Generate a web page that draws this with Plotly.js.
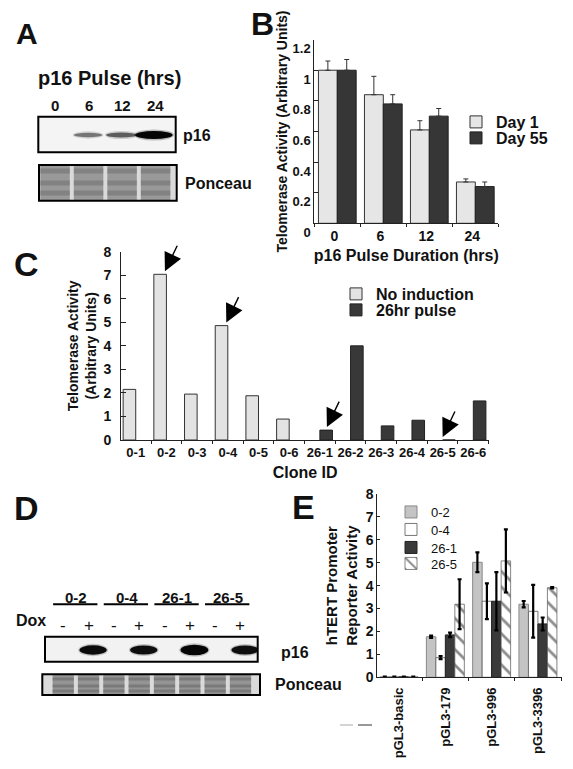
<!DOCTYPE html>
<html><head><meta charset="utf-8">
<script src="https://cdn.plot.ly/plotly-3.0.1.min.js"></script>
<style>html,body{margin:0;padding:0;background:#fff}#chart{width:573px;height:769px}</style>
</head><body><div id="chart"></div>
<script>
// ---------------- data ----------------
// Panel B
const pulseDurations = ['0', '6', '12', '24'];
const day1Activity = [1.00, 0.84, 0.61, 0.27];
const day1Error = [0.06, 0.12, 0.06, 0.02];
const day55Activity = [1.00, 0.78, 0.70, 0.24];
const day55Error = [0.07, 0.06, 0.05, 0.03];
const day1Significant = [false, false, true, true];
const day55Significant = [false, true, true, true];
// Panel C
const cloneIds = ['0-1','0-2','0-3','0-4','0-5','0-6','26-1','26-2','26-3','26-4','26-5','26-6'];
const noInductionActivity = [2.15, 7.04, 1.95, 4.86, 1.88, 0.89, null, null, null, null, null, null];
const pulse26Activity = [null, null, null, null, null, null, 0.42, 4.00, 0.60, 0.84, 0, 1.66];
const selectedClones = ['0-2', '0-4', '26-1', '26-5'];
// Panel E
const constructs = ['pGL3-basic', 'pGL3-179', 'pGL3-996', 'pGL3-3396'];
const reporter02 = [0.02, 1.77, 5.02, 3.19];
const reporter02Err = [0.01, 0.05, 0.43, 0.14];
const reporter04 = [0.02, 0.86, 3.32, 2.88];
const reporter04Err = [0.01, 0.07, 0.78, 1.15];
const reporter261 = [0.02, 1.85, 3.32, 2.33];
const reporter261Err = [0.01, 0.10, 1.27, 0.28];
const reporter265 = [0.02, 3.19, 5.08, 3.91];
const reporter265Err = [0.01, 1.09, 1.38, 0.03];
// Panels A and D (blots)
const pulseLanes = ['0', '6', '12', '24'];
const p16PulseBand = [0, 0.30, 0.45, 1.0];
const doxClones = ['0-2', '0-4', '26-1', '26-5'];
const doxStates = ['-', '+'];
const p16DoxBand = [0, 0.8, 0, 0.75, 0, 1.0, 0, 0.7];

// ---------------- helpers ----------------
const W = 573, H = 769;
const fx = x => x / W;
const fy = y => 1 - y / H;
const FONT = 'Liberation Sans, Arial, Helvetica, sans-serif';
const bold = (size) => ({family: FONT, size: size, color: '#111', weight: 'bold'});
const plain = (size) => ({family: FONT, size: size, color: '#111'});
const zeros = a => a.map(() => 0);

// ---------------- traces ----------------
const traces = [
  {type: 'bar', name: 'Day 1', x: pulseDurations, y: day1Activity, xaxis: 'x', yaxis: 'y', legend: 'legend',
   marker: {color: '#e6e6e6', line: {color: '#333', width: 1}},
   error_y: {type: 'data', array: day1Error, arrayminus: zeros(day1Error), symmetric: false, color: '#333', thickness: 1, width: 2.5}},
  {type: 'bar', name: 'Day 55', x: pulseDurations, y: day55Activity, xaxis: 'x', yaxis: 'y', legend: 'legend4',
   marker: {color: '#363636', line: {color: '#222', width: 1}},
   error_y: {type: 'data', array: day55Error, arrayminus: zeros(day55Error), symmetric: false, color: '#333', thickness: 1, width: 2.5}},
  {type: 'bar', name: 'No induction', x: cloneIds, y: noInductionActivity, xaxis: 'x2', yaxis: 'y2', legend: 'legend2',
   marker: {color: '#e3e3e3', line: {color: '#333', width: 1}}},
  {type: 'bar', name: '26hr pulse', x: cloneIds, y: pulse26Activity, xaxis: 'x2', yaxis: 'y2', legend: 'legend5',
   marker: {color: '#383838', line: {color: '#222', width: 1}}},
  {type: 'bar', name: '0-2', x: constructs, y: reporter02, xaxis: 'x3', yaxis: 'y3', legend: 'legend3',
   marker: {color: '#c4c4c4', line: {color: '#888', width: 1}},
   error_y: {type: 'data', array: reporter02Err, color: '#000', thickness: 2.2, width: 2}},
  {type: 'bar', name: '0-4', x: constructs, y: reporter04, xaxis: 'x3', yaxis: 'y3', legend: 'legend6',
   marker: {color: '#ffffff', line: {color: '#555', width: 0.8}},
   error_y: {type: 'data', array: reporter04Err, color: '#000', thickness: 2.2, width: 2}},
  {type: 'bar', name: '26-1', x: constructs, y: reporter261, xaxis: 'x3', yaxis: 'y3', legend: 'legend7',
   marker: {color: '#3a3a3a', line: {color: '#222', width: 1}},
   error_y: {type: 'data', array: reporter261Err, color: '#000', thickness: 2.2, width: 2}},
  {type: 'bar', name: '26-5', x: constructs, y: reporter265, xaxis: 'x3', yaxis: 'y3', legend: 'legend8',
   marker: {color: '#ffffff', line: {color: '#666', width: 0.8},
            pattern: {shape: '\\', fgcolor: '#8c8c8c', bgcolor: '#ffffff', size: 11, solidity: 0.25}},
   error_y: {type: 'data', array: reporter265Err, color: '#000', thickness: 2.2, width: 2}},
  // invisible anchors for the blot lane scales
  {type: 'scatter', x: [], y: [], xaxis: 'x4', yaxis: 'y4', showlegend: false, hoverinfo: 'skip'},
  {type: 'scatter', x: [], y: [], xaxis: 'x5', yaxis: 'y5', showlegend: false, hoverinfo: 'skip'}
];

// ---------------- annotations ----------------
const annotations = [];
const txt = (xref, x, y, text, font, xanchor) => ({xref: xref, yref: 'paper', x: x, y: fy(y), text: text, showarrow: false,
  font: font, xanchor: xanchor || 'center', yanchor: 'middle'});
// panel letters
[['A', 26.7, 33.5, 30], ['B', 262, 24, 32], ['C', 26.5, 264, 34], ['D', 26.5, 508, 34], ['E', 303.5, 507, 34]]
  .forEach(([t, x, y, s]) => annotations.push(txt('paper', fx(x), y, t, bold(s))));
// significance stars (B)
pulseDurations.forEach((d, i) => {
  if (day1Significant[i]) annotations.push({xref: 'x', yref: 'y', x: d, y: day1Activity[i] + day1Error[i], xshift: -9.3, yshift: -3,
    text: '*', showarrow: false, xanchor: 'center', yanchor: 'bottom', font: plain(13)});
  if (day55Significant[i]) annotations.push({xref: 'x', yref: 'y', x: d, y: day55Activity[i] + day55Error[i], xshift: 9.3, yshift: -3,
    text: '*', showarrow: false, xanchor: 'center', yanchor: 'bottom', font: plain(13)});
});
// arrows (C)
selectedClones.forEach(c => {
  const i = cloneIds.indexOf(c);
  const noInd = noInductionActivity[i] !== null;
  const v = noInd ? noInductionActivity[i] : (pulse26Activity[i] || 0);
  annotations.push({xref: 'x2', yref: 'y2', x: c, y: v, xshift: noInd ? -1.5 : (v > 0 ? 7 : 0), yshift: 3,
    text: '', showarrow: true, arrowhead: 2, arrowsize: 2.6, arrowwidth: 1.4, arrowcolor: '#000', ax: 13, ay: -27});
});
// panel A texts
annotations.push(txt('paper', fx(109), 78, 'p16 Pulse (hrs)', bold(20)));
pulseLanes.forEach((l, i) => annotations.push(txt('x4', i, 106, l, bold(15))));
annotations.push(txt('paper', fx(181.5), 135, 'p16', bold(16), 'left'));
annotations.push(txt('paper', fx(182.5), 183.3, 'Ponceau', bold(16), 'left'));
// panel D texts
doxClones.forEach((c, g) => annotations.push(txt('x5', 2 * g + 0.5, 597.5, c, bold(15))));
p16DoxBand.forEach((b, i) => annotations.push(txt('x5', i, 625, doxStates[i % 2], plain(17))));
annotations.push(txt('paper', fx(14), 620.5, 'Dox', bold(16), 'left'));
annotations.push(txt('paper', fx(279), 652, 'p16', bold(16), 'left'));
annotations.push(txt('paper', fx(273), 684, 'Ponceau', bold(16), 'left'));

// ---------------- shapes (blots) ----------------
const shapes = [];
const rectP = (x0, y0, x1, y1, fill, lw) => ({type: 'rect', xref: 'paper', yref: 'paper', x0: fx(x0), x1: fx(x1), y0: fy(y1), y1: fy(y0),
  fillcolor: fill || 'rgba(0,0,0,0)', line: {color: '#000', width: lw || 0}, layer: 'above'});
const grey = v => { const g = Math.max(0, Math.round(v)); return `rgb(${g},${g},${g})`; };
const band = (xref, c, hw, yc, hh, color, op) => ({type: 'circle', xref: xref, yref: 'paper', x0: c - hw, x1: c + hw,
  y0: fy(yc + hh), y1: fy(yc - hh), fillcolor: color, opacity: op, line: {width: 0}});

// A: p16 blot
shapes.push(rectP(38.3, 116.7, 175.7, 152.3, '#f4f4f4', 0));
p16PulseBand.forEach((v, i) => {
  if (v <= 0) return;
  const hw = 0.36 + 0.2 * v, hh = 1.4 + 2.6 * v, c = i - 0.05 * v;
  shapes.push(band('x4', c, hw + 0.04, 135, hh + 1.5, grey(150 - 130 * v), 0.25));
  shapes.push(band('x4', c, hw, 135, hh, grey(165 - 160 * v), 1));
});
shapes.push(rectP(38.3, 116.7, 175.7, 152.3, null, 2));
// A: Ponceau
shapes.push(rectP(39, 165, 176.7, 200.7, '#dadada', 0));
pulseLanes.forEach((l, i) => {
  shapes.push({type: 'rect', xref: 'x4', yref: 'paper', x0: i - 0.44, x1: i + 0.44, y0: fy(200.7), y1: fy(165), fillcolor: '#999', line: {width: 0}});
  [171, 183, 193].forEach(s => shapes.push({type: 'rect', xref: 'x4', yref: 'paper', x0: i - 0.44, x1: i + 0.44,
    y0: fy(s + 2.5), y1: fy(s - 2.5), fillcolor: '#666', opacity: 0.45, line: {width: 0}}));
});
shapes.push(rectP(39, 165, 176.7, 200.7, null, 2));

// D: underlines
doxClones.forEach((c, g) => shapes.push({type: 'line', xref: 'x5', yref: 'paper', x0: 2 * g - 0.4, x1: 2 * g + 1.35,
  y0: fy(604.3), y1: fy(604.3), line: {color: '#000', width: 2}}));
// D: p16 blot
shapes.push(rectP(45, 636.7, 257.7, 661.7, '#f2f2f2', 0));
p16DoxBand.forEach((v, i) => {
  if (v <= 0) return;
  const c = i + 0.18, hw = 0.5 + 0.05 * v, hh = 2.6 + 2.6 * v;
  shapes.push(band('x5', c, hw + 0.05, 650, hh + 1.5, '#555', 0.3));
  shapes.push(band('x5', c, hw, 650, hh, grey(35 - 30 * v), 1));
});
shapes.push(rectP(45, 636.7, 257.7, 661.7, null, 2));
// D: Ponceau
shapes.push(rectP(42.3, 674.3, 260, 695, '#dadada', 0));
p16DoxBand.forEach((v, i) => {
  shapes.push({type: 'rect', xref: 'x5', yref: 'paper', x0: i - 0.42, x1: i + 0.42, y0: fy(695), y1: fy(674.3), fillcolor: '#949494', line: {width: 0}});
  [679, 686, 691].forEach(s => shapes.push({type: 'rect', xref: 'x5', yref: 'paper', x0: i - 0.42, x1: i + 0.42,
    y0: fy(s + 1.5), y1: fy(s - 1.5), fillcolor: '#5a5a5a', opacity: 0.45, line: {width: 0}}));
});
shapes.push(rectP(42.3, 674.3, 260, 695, null, 2));
// stray marks under panel E
shapes.push({type: 'line', xref: 'paper', yref: 'paper', x0: fx(340), x1: fx(353), y0: fy(725), y1: fy(725), line: {color: '#aaa', width: 1}});
shapes.push({type: 'line', xref: 'paper', yref: 'paper', x0: fx(358), x1: fx(372), y0: fy(725), y1: fy(725), line: {color: '#333', width: 1}});

// ---------------- legends (one per entry, for exact spacing) ----------------
const leg = (x, yTop, font) => ({x: fx(x), y: fy(yTop), xanchor: 'left', yanchor: 'top', font: font, bgcolor: 'rgba(0,0,0,0)', tracegroupgap: 0, visible: true});

// ---------------- layout ----------------
const axBase = {showgrid: false, zeroline: false, showline: true, linecolor: '#222', linewidth: 1, tickcolor: '#222', fixedrange: true};
const layout = {
  width: W, height: H, margin: {l: 0, r: 0, t: 0, b: 0},
  paper_bgcolor: '#fff', plot_bgcolor: 'rgba(0,0,0,0)',
  font: {family: FONT, color: '#111'},
  showlegend: true,
  barmode: 'group', bargap: 0.18, bargroupgap: 0,
  hovermode: false,
  // B
  xaxis: Object.assign({}, axBase, {domain: [fx(314.3), fx(498.3)], anchor: 'y', type: 'category', range: [-0.5, 3.5],
    ticks: 'outside', tickson: 'boundaries', ticklen: 3, tickfont: bold(14), ticklabelshift: -3, tickangle: 0,
    title: {text: 'p16 Pulse Duration (hrs)', font: bold(16), standoff: 6}}),
  yaxis: Object.assign({}, axBase, {domain: [fy(223.3), fy(39.6)], anchor: 'x', range: [0, 1.2],
    tickvals: [0, 0.2, 0.4, 0.6, 0.8, 1.0, 1.2], ticktext: ['0', '0.2', '0.4', '0.6', '0.8', '1', '1.2'],
    ticks: 'inside', ticklen: 4, tickfont: bold(13), ticklabelshift: 9,
    title: {text: 'Telomerase Activity (Arbitrary Units)', font: bold(14), standoff: 1}}),
  // C
  xaxis2: Object.assign({}, axBase, {domain: [fx(121), fx(489.3)], anchor: 'y2', type: 'category', range: [-0.48, 11.52],
    ticks: 'outside', tickson: 'boundaries', ticklen: 3, tickfont: bold(13), tickangle: 0,
    title: {text: 'Clone ID', font: bold(16), standoff: 8}}),
  yaxis2: Object.assign({}, axBase, {domain: [fy(440), fy(251.7)], anchor: 'x2', range: [0, 8], dtick: 1,
    ticks: 'inside', ticklen: 5, tickfont: bold(14), ticklabelstandoff: 6,
    title: {text: 'Telomerase Activity<br>(Arbitrary Units)', font: bold(14), standoff: 3}}),
  // E
  xaxis3: Object.assign({}, axBase, {domain: [fx(377.3), fx(562)], anchor: 'y3', type: 'category', range: [-0.47, 3.52],
    ticks: 'outside', tickson: 'boundaries', ticklen: 3, tickfont: bold(13), tickangle: -90, ticklabelstandoff: 4}),
  yaxis3: Object.assign({}, axBase, {domain: [fy(677.3), fy(494)], anchor: 'x3', range: [0, 8], dtick: 1,
    ticks: 'inside', ticklen: 3, tickfont: bold(14),
    title: {text: 'hTERT Promoter<br>Reporter Activity', font: bold(15), standoff: 4}}),
  // blot lane scales
  xaxis4: {domain: [fx(38.3), fx(175.7)], range: [-0.5, 3.6], anchor: 'y4', visible: false, fixedrange: true},
  yaxis4: {domain: [fy(200.7), fy(116.7)], range: [0, 1], anchor: 'x4', visible: false, fixedrange: true},
  xaxis5: {domain: [fx(45), fx(257.7)], range: [-0.72, 7.68], anchor: 'y5', visible: false, fixedrange: true},
  yaxis5: {domain: [fy(695), fy(636.7)], range: [0, 1], anchor: 'x5', visible: false, fixedrange: true},
  legend: leg(456, 105, bold(16)),
  legend4: leg(456, 121, bold(16)),
  legend2: leg(336, 277, bold(16)),
  legend5: leg(336, 293, bold(16)),
  legend3: leg(391, 497, plain(13)),
  legend6: leg(391, 514.5, plain(13)),
  legend7: leg(391, 532.5, plain(13)),
  legend8: leg(391, 548.5, plain(13)),
  annotations: annotations,
  shapes: shapes
};

Plotly.newPlot('chart', traces, layout, {staticPlot: true, displayModeBar: false});
</script>
</body></html>
